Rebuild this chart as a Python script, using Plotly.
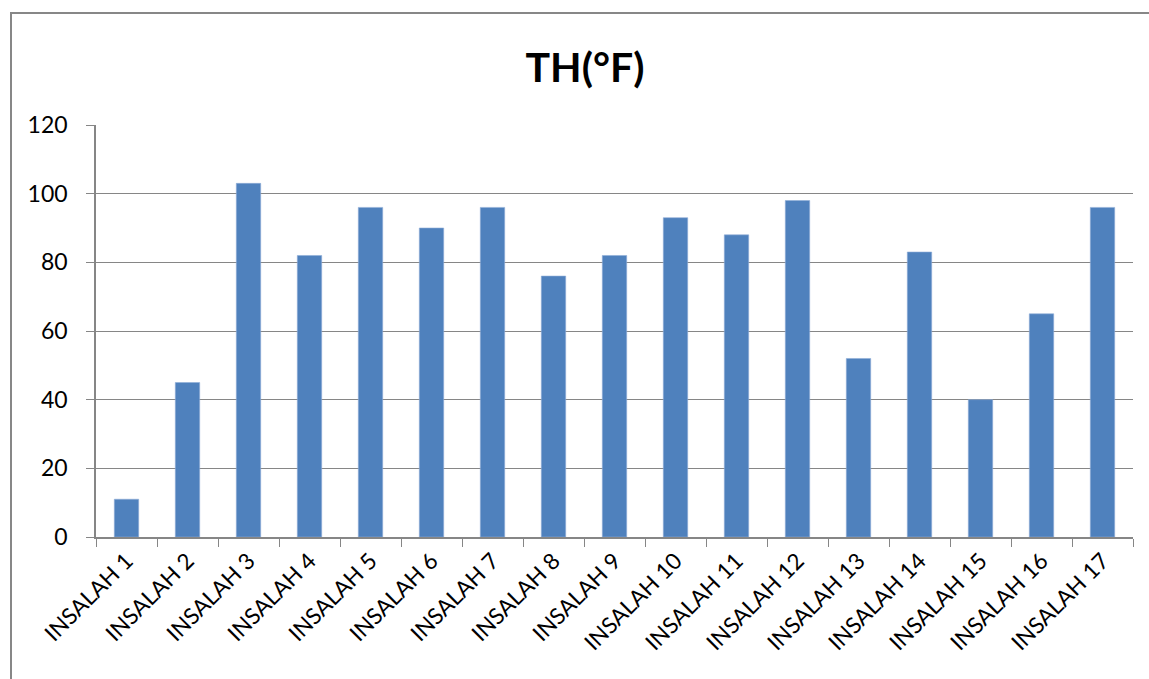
import plotly.graph_objects as go

categories = [f"INSALAH {i}" for i in range(1, 18)]
th_values = [11, 45, 103, 82, 96, 90, 96, 76, 82, 93, 88, 98, 52, 83, 40, 65, 96]
y_ticks = [0, 20, 40, 60, 80, 100, 120]

W, H = 1149, 679
L, R, T, B = 96, 1133, 125, 537

fig = go.Figure(go.Bar(
    x=categories, y=th_values,
    marker=dict(color="#4F81BD", line=dict(color="#8EADD6", width=0.6)),
))

font = "Lato, 'Open Sans', sans-serif"

def px_x(p):
    return (p - L) / (R - L)

def px_y(p):
    return (B - p) / (B - T)

fig.update_layout(
    width=W, height=H,
    margin=dict(l=L, r=W - R, t=T, b=H - B),
    paper_bgcolor="white", plot_bgcolor="white",
    bargap=0.6,
    showlegend=False,
    title=dict(text="<b>TH(°F)</b>", x=585 / W, xanchor="center",
               y=1 - 68 / H, yanchor="middle",
               font=dict(size=41, color="black", family=font)),
    font=dict(family=font, color="black"),
    xaxis=dict(
        type="category", tickangle=-45, tickson="boundaries",
        ticks="outside", ticklen=8, tickcolor="#868686",
        showline=True, linecolor="#868686", linewidth=1.5,
        showgrid=False, tickfont=dict(size=22.5, color="black"),
        range=[-0.5, 16.5],
    ),
    yaxis=dict(
        range=[0, 120], tickvals=y_ticks,
        ticks="outside", ticklen=8, tickcolor="#868686",
        showline=True, linecolor="#868686", linewidth=1.5,
        showgrid=True, gridcolor="#868686", gridwidth=1.3,
        tickfont=dict(size=23, color="black"),
        ticklabelstandoff=14, zeroline=False,
    ),
    shapes=[dict(type="rect", xref="paper", yref="paper",
                 x0=px_x(11), x1=px_x(1170), y0=px_y(13), y1=px_y(700),
                 line=dict(color="#878787", width=2), fillcolor="rgba(0,0,0,0)")],
)

fig.write_html("out.html", config={"displayModeBar": False},
               post_script="document.body.style.margin='0';")
